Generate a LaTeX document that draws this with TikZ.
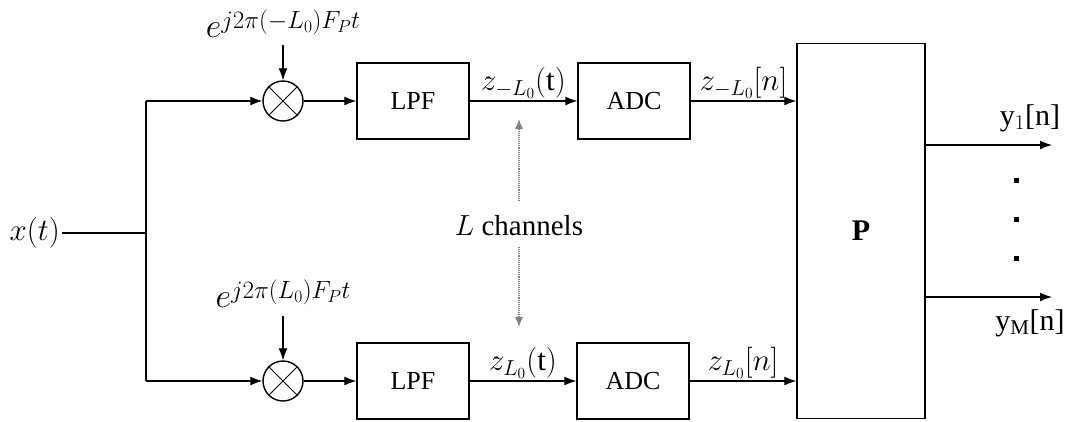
\RequirePackage{fix-cm}
\documentclass[tikz,border=0pt]{standalone}
\usepackage{fontspec}
\setmainfont{Liberation Serif}
\usetikzlibrary{arrows.meta}
\newcommand{\expo}[1]{$e$\raisebox{9pt}{\fontsize{25}{27}\selectfont$#1$}}
\begin{document}
\begin{tikzpicture}[x=1pt,y=-1pt, font=\fontsize{26}{30}\selectfont,
 blk/.style={draw, line width=1.4pt, minimum width=112pt, minimum height=76pt, inner sep=0},
 mix/.style={draw, circle, line width=1.4pt, minimum size=40pt, inner sep=0},
 arr/.style={-{Latex[length=12pt,width=9pt]}, line width=1.1pt},
 ln/.style={line width=1.1pt},
 dotarr/.style={densely dotted, gray, line width=1.1pt, -{Latex[length=10pt,width=8pt]}},
 lbl/.style={inner sep=2pt, font=\fontsize{31}{34}\selectfont},
 ylbl/.style={inner sep=2pt, font=\fontsize{30}{34}\selectfont},
 dot/.style={fill, minimum size=5pt, inner sep=0}]
\useasboundingbox (0,0) rectangle (1065,421);
% input
\node[anchor=east, lbl] (x) at (62,233) {$x(t)$};
\coordinate (s) at (146,233);
\coordinate (st) at (146,101);
\coordinate (sb) at (146,381);
\draw[ln] (x.east) -- (s);
\draw[ln] (st) -- (sb);
% mixers
\node[mix] (m1) at (283,101) {};
\node[mix] (m2) at (283,381) {};
\draw[line width=0.8pt] (m1.north west) -- (m1.south east) (m1.north east) -- (m1.south west);
\draw[line width=0.8pt] (m2.north west) -- (m2.south east) (m2.north east) -- (m2.south west);
\node[font=\fontsize{34}{36}\selectfont, inner sep=1pt] (e1) at (283,24) {\expo{j2\pi(-L_0)F_P t}};
\node[font=\fontsize{34}{36}\selectfont, inner sep=1pt] (e2) at (283,294) {\expo{j2\pi(L_0)F_P t}};
\coordinate (e1b) at (283,45);
\coordinate (e2b) at (283,316);
\draw[arr] (e1b) -- (m1.north);
\draw[arr] (e2b) -- (m2.north);
\draw[arr] (st) -- (m1.west);
\draw[arr] (sb) -- (m2.west);
% blocks
\node[blk] (lpf1) at (413,101) {LPF};
\node[blk] (adc1) at (634,101) {ADC};
\node[blk] (lpf2) at (413,381) {LPF};
\node[blk] (adc2) at (633,381) {ADC};
\node[draw, line width=1.4pt, minimum width=128pt, minimum height=375pt, inner sep=0, font=\fontsize{30}{34}\selectfont\bfseries] (P) at (861,231) {P};
\draw[arr] (m1.east) -- (lpf1.west);
\draw[arr] (m2.east) -- (lpf2.west);
\draw[arr] (lpf1.east) -- node[above, lbl] (z1) {$z_{-L_0}(\mathrm{t})$} (adc1.west);
\draw[arr] (lpf2.east) -- node[above, lbl] (z2) {$z_{L_0}(\mathrm{t})$} (adc2.west);
\draw[arr] (adc1.east) -- node[above, lbl] (n1) {$z_{-L_0}[n]$} (adc1.east -| P.west);
\draw[arr] (adc2.east) -- node[above, lbl] (n2) {$z_{L_0}[n]$} (adc2.east -| P.west);
% channels
\node[font=\fontsize{29}{32}\selectfont] (L) at (519,226) {$L$ channels};
\coordinate (dt) at (519,119);
\coordinate (db) at (519,327);
\draw[dotarr] (519,201) -- (dt);
\draw[dotarr] (519,247) -- (db);
% outputs
\coordinate (o1) at (1052,145);
\coordinate (o2) at (1052,297);
\draw[arr] (P.east |- o1) -- (o1);
\draw[arr] (P.east |- o2) -- (o2);
\node[ylbl] (y1) at (1030,118) {y$_1$[n]};
\node[ylbl] (yM) at (1030,323) {y$_{\mathrm{M}}$[n]};
\node[dot] (d1) at (1016,180) {};
\node[dot] (d2) at (1016,219) {};
\node[dot] (d3) at (1016,258) {};
\end{tikzpicture}
\end{document}
